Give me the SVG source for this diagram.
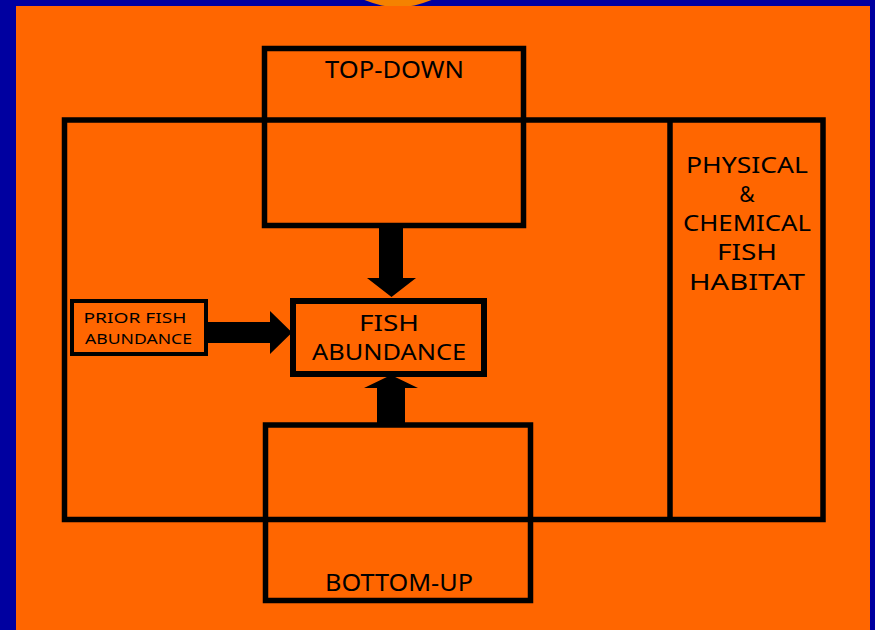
<svg xmlns="http://www.w3.org/2000/svg" width="875" height="630" viewBox="0 0 875 630">
  <style>
    .box { fill: none; stroke: #000; }
    .t { font-family: "Comic Sans MS", "Noto Sans", "DejaVu Sans", sans-serif; fill: #000; text-anchor: middle; }
    .big { font-size: 24px; }
    .stack { font-size: 21px; }
    .small { font-size: 15px; }
    .arrow { fill: #000; stroke: none; }
  </style>
  <rect x="0" y="0" width="875" height="630" fill="#0000A0"/>
  <circle cx="398" cy="-77" r="84" fill="#F58200"/>
  <rect x="16" y="6" width="854" height="624" fill="#FF6600"/>

  <g id="context">
    <rect class="box" x="64.5" y="120" width="758.5" height="399.5" stroke-width="5.5"/>
  </g>
  <g id="habitat">
    <line x1="670" y1="120" x2="670" y2="519.5" stroke="#000" stroke-width="5.5"/>
    <text class="t stack" x="747" y="173" textLength="122" lengthAdjust="spacingAndGlyphs">PHYSICAL</text>
    <text class="t stack" x="747" y="202">&amp;</text>
    <text class="t stack" x="747" y="231" textLength="128" lengthAdjust="spacingAndGlyphs">CHEMICAL</text>
    <text class="t stack" x="747" y="260" textLength="60" lengthAdjust="spacingAndGlyphs">FISH</text>
    <text class="t stack" x="747" y="290" textLength="116" lengthAdjust="spacingAndGlyphs">HABITAT</text>
  </g>
  <g id="top-down">
    <rect class="box" x="264.5" y="48.5" width="259" height="177" stroke-width="5.5"/>
    <text class="t big" x="394.5" y="78" textLength="139" lengthAdjust="spacingAndGlyphs">TOP-DOWN</text>
  </g>
  <g id="bottom-up">
    <rect class="box" x="265.5" y="425" width="265" height="175.5" stroke-width="5.5"/>
    <text class="t big" x="399" y="591" textLength="148" lengthAdjust="spacingAndGlyphs">BOTTOM-UP</text>
  </g>
  <g id="fish-abundance">
    <rect class="box" x="293" y="301" width="191" height="73" stroke-width="6"/>
    <text class="t stack" x="389" y="331" textLength="60" lengthAdjust="spacingAndGlyphs">FISH</text>
    <text class="t stack" x="389" y="360" textLength="154" lengthAdjust="spacingAndGlyphs">ABUNDANCE</text>
  </g>
  <g id="prior-fish-abundance">
    <rect class="box" x="72" y="301" width="134" height="53" stroke-width="4"/>
    <text class="t small" x="135" y="323" textLength="103" lengthAdjust="spacingAndGlyphs">PRIOR FISH</text>
    <text class="t small" x="138.5" y="344" textLength="107" lengthAdjust="spacingAndGlyphs">ABUNDANCE</text>
  </g>

  <g id="connectors">
    <polygon class="arrow" points="379,228 403,228 403,278 416,278 391.5,297 367,278 379,278"/>
    <polygon class="arrow" points="208,322 270,322 270,311 292,332.5 270,354 270,343 208,343"/>
    <polygon class="arrow" points="377,423 377,388 364,388 391,375 418,388 405,388 405,423"/>
  </g>
</svg>
